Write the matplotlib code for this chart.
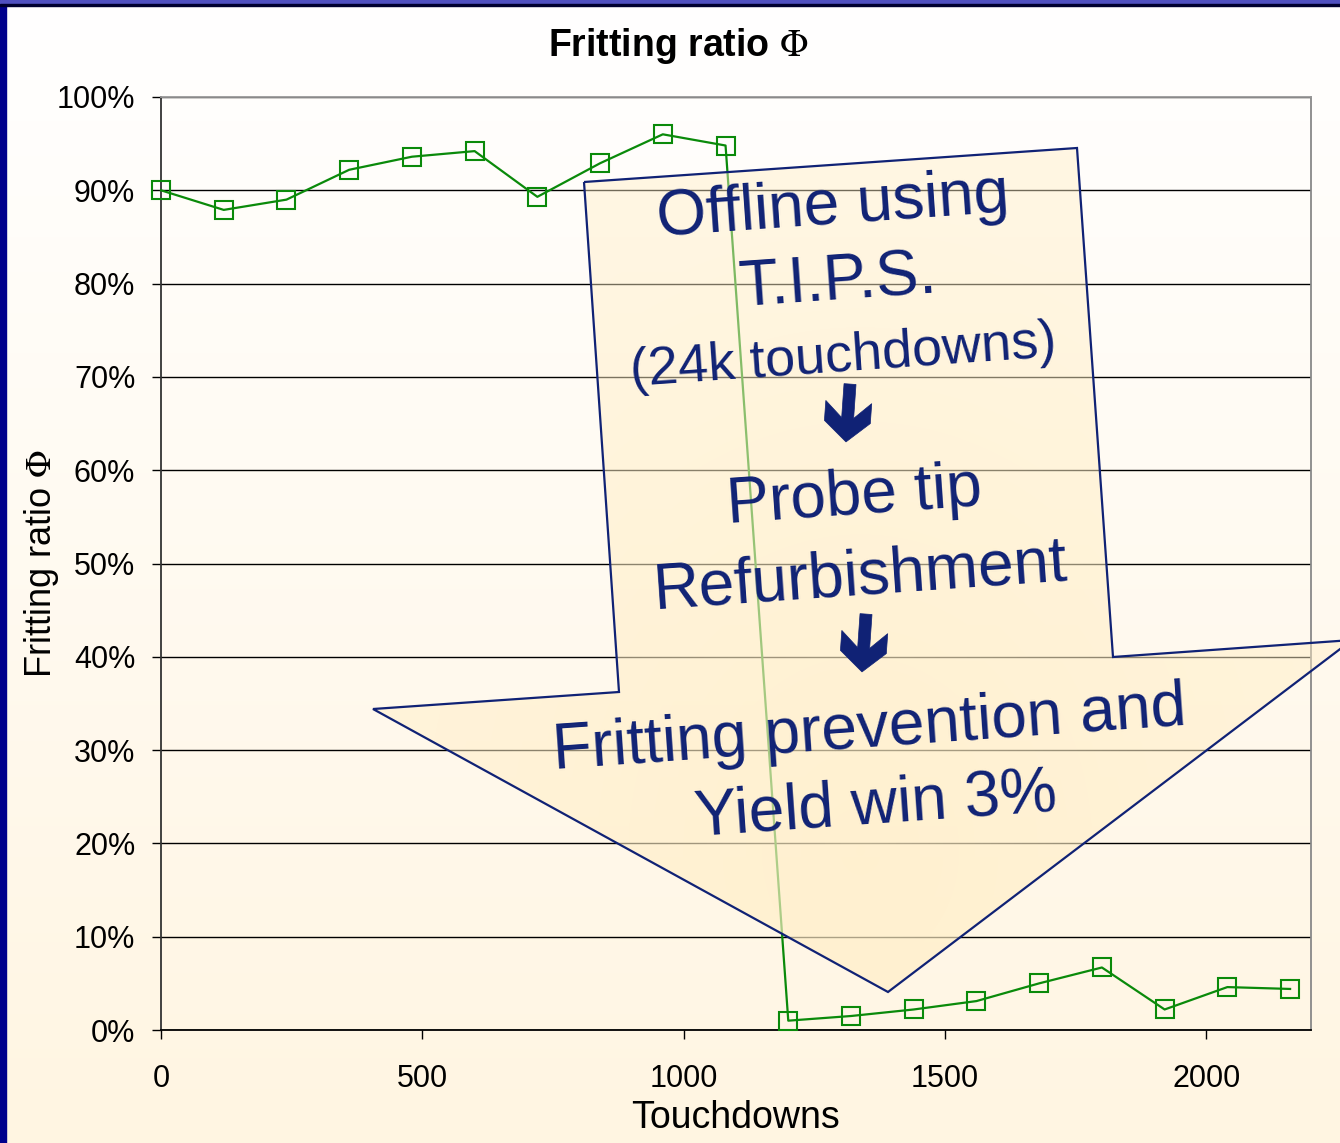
import numpy as np
import matplotlib
matplotlib.use("Agg")
import matplotlib.pyplot as plt
from matplotlib.patches import Polygon, Rectangle
from matplotlib.ticker import PercentFormatter

plt.rcParams['font.family'] = ['Liberation Sans', 'DejaVu Sans']
plt.rcParams['mathtext.fontset'] = 'stix'

# data
touchdowns = [0, 120, 240, 360, 480, 600, 720, 840, 960, 1080,
              1200, 1320, 1440, 1560, 1680, 1800, 1920, 2040, 2160]
fritting_pct = [90.0, 87.9, 89.0, 92.2, 93.6, 94.2, 89.3, 92.9, 96.0, 94.8,
                1.0, 1.5, 2.2, 3.1, 5.0, 6.7, 2.2, 4.6, 4.4]
x_ticks = [0, 500, 1000, 1500, 2000]
y_ticks = [0, 10, 20, 30, 40, 50, 60, 70, 80, 90, 100]

arrow_lines = ["Offline using", "T.I.P.S.", "(24k touchdowns)",
               "Probe tip", "Refurbishment",
               "Fritting prevention and", "Yield win 3%"]

W, H = 1340, 1143
NAVY = '#102275'
GREEN = '#0a8a0a'

fig = plt.figure(figsize=(W / 100, H / 100), dpi=100)

# background: white fading to cream
bg = fig.add_axes([0, 0, 1, 1], zorder=0)
bg.set_axis_off()
t = np.linspace(0, 1, 256)[:, None]
top = np.array([1.0, 1.0, 1.0])
bot = np.array([1.0, 0.962, 0.885])
img = top[None, None, :] * (1 - t[..., None]) + bot[None, None, :] * t[..., None]
bg.imshow(img, aspect='auto', extent=[0, 1, 0, 1], origin='upper')

# slide frame bars
fig.patches.append(Rectangle((0, 0), 6 / W, 1, transform=fig.transFigure,
                             color='#00008c', zorder=5))
fig.patches.append(Rectangle((0, 1 - 5 / H), 1, 5 / H, transform=fig.transFigure,
                             color='#5050c0', zorder=5))
fig.patches.append(Rectangle((0, 1 - 6 / H), 1, 1.5 / H, transform=fig.transFigure,
                             color='#000030', zorder=5))

# main chart
ax = fig.add_axes([161 / W, 1 - 1030 / H, 1150 / W, 933 / H], zorder=1)
ax.set_facecolor('none')
ax.plot(touchdowns, fritting_pct, color=GREEN, lw=1.6, marker='s',
        markersize=13.5, markerfacecolor='none', markeredgecolor=GREEN,
        markeredgewidth=1.5, clip_on=False, zorder=3)
ax.set_xlim(0, 2200)
ax.set_ylim(0, 100)
ax.set_xticks(x_ticks)
ax.set_yticks(y_ticks)
ax.yaxis.set_major_formatter(PercentFormatter(decimals=0))
ax.tick_params(axis='both', labelsize=22, length=6.5, width=1, direction='out')
ax.tick_params(axis='y', pad=12)
ax.tick_params(axis='x', pad=18)
ax.grid(axis='y', color='black', lw=1)
ax.spines['left'].set_color('#333333')
ax.spines['bottom'].set_color('black')
ax.spines['top'].set_color('#999999')
ax.spines['right'].set_color('#888888')
for s in ax.spines.values():
    s.set_linewidth(1.3)

ax.set_xlabel('Touchdowns', fontsize=27, va='top')
ax.xaxis.set_label_coords(0.5, -0.075)
ax.set_ylabel(r'Fritting ratio $\Phi$', fontsize=26)
ax.yaxis.set_label_coords(-0.087, 0.5)

fig.text(678 / W, 1 - 46 / H, r'Fritting ratio $\Phi$', fontsize=27,
         fontweight='bold', ha='center', va='center')

# overlay: big callout arrow in pixel coords
ov = fig.add_axes([0, 0, 1, 1], zorder=2)
ov.set_xlim(0, W)
ov.set_ylim(H, 0)
ov.set_axis_off()

arrow_pts = [(584, 182), (1077, 148), (1113, 657), (1352, 640),
             (888, 992), (373, 709), (619, 692)]
shape = Polygon(arrow_pts, closed=True, facecolor='none', edgecolor=NAVY,
                lw=1.6, zorder=3)
fill = Polygon(arrow_pts, closed=True, facecolor='none', edgecolor='none')
ov.add_patch(fill)

# soft fill, a bit stronger near the arrow head
yy, xx = np.mgrid[140:1000, 370:1360]
d = np.hypot((xx - 860) / 500, (yy - 850) / 600)
alpha = np.clip(0.72 - 0.25 * d, 0.45, 0.72)
rgba = np.zeros(yy.shape + (4,))
rgba[..., 0] = 1.0
rgba[..., 1] = 0.935
rgba[..., 2] = 0.78
rgba[..., 3] = alpha
im = ov.imshow(rgba, extent=[370, 1360, 1000, 140], origin='upper',
               aspect='auto', zorder=2)
im.set_clip_path(fill)
ov.add_patch(shape)

rot = 4
line_pos = [(833, 207), (838, 283), (843, 357), (854, 497), (860, 577),
            (870, 730), (876, 806)]
line_size = [46, 46, 39, 46, 46, 46, 46]
for txt, (px, py), fs in zip(arrow_lines, line_pos, line_size):
    ov.text(px, py, txt, fontsize=fs, color=NAVY, ha='center', va='center',
            rotation=rot, rotation_mode='anchor', zorder=4)

# small down arrows between the steps
glyph = np.array([(-6, -29), (6, -29), (6, 5), (23, -11), (23, 9), (0, 29),
                  (-23, 9), (-23, -11), (-6, 5)], dtype=float)
a = np.deg2rad(rot)
R = np.array([[np.cos(a), -np.sin(a)], [np.sin(a), np.cos(a)]])
for cx, cy in [(848, 413), (864, 643)]:
    pts = glyph @ R.T + [cx, cy]
    ov.add_patch(Polygon(pts, closed=True, facecolor=NAVY, edgecolor=NAVY,
                         lw=0.5, zorder=4))

fig.savefig('out.png', dpi=100)
